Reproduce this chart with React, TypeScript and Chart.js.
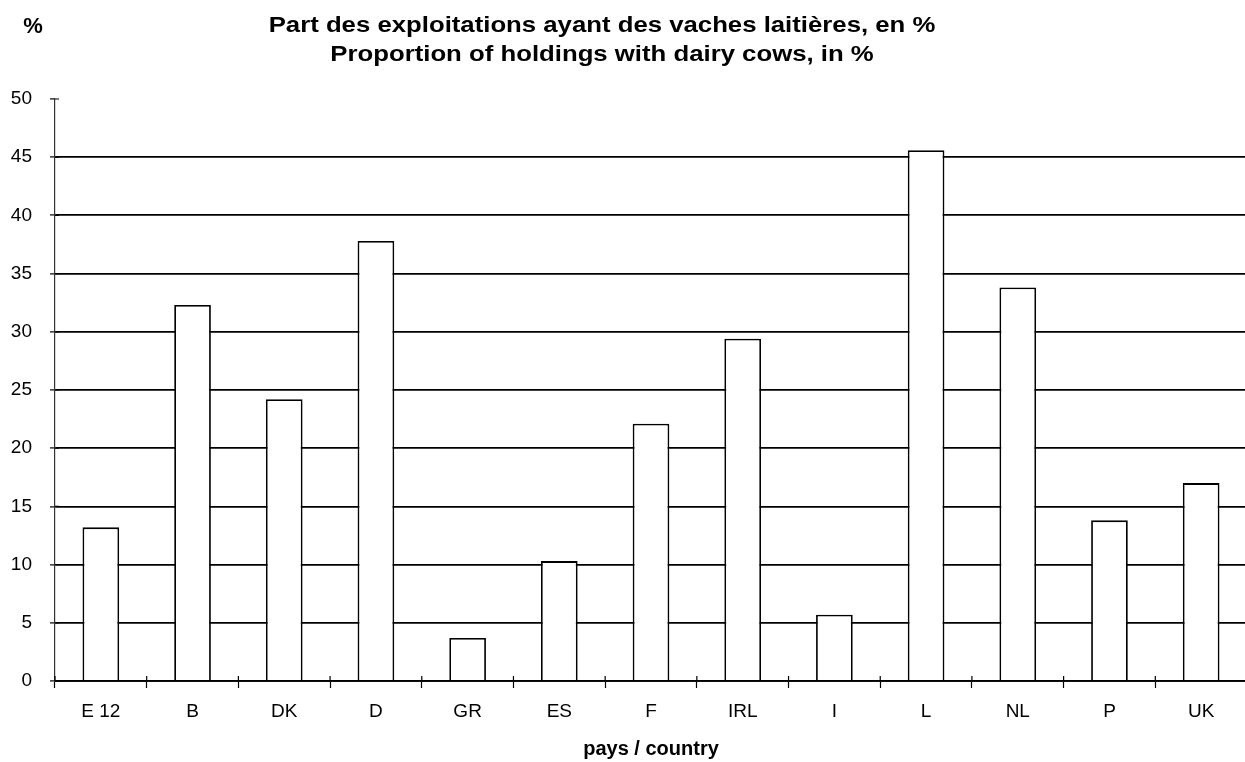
import React, { useEffect, useRef } from "react";
import { Chart, registerables } from "chart.js";

Chart.register(...registerables);

const categories = ["E 12", "B", "DK", "D", "GR", "ES", "F", "IRL", "I", "L", "NL", "P", "UK"];
const shares = [13.2, 32.3, 24.2, 37.8, 3.7, 10.3, 22.1, 29.4, 5.7, 45.6, 33.8, 13.8, 17.0];
const yMin = 0;
const yMax = 50;
const yStep = 5;
const titleLines = [
  "Part des exploitations ayant des vaches laitières, en %",
  "Proportion of holdings with dairy cows, in %",
];
const yUnitLabel = "%";
const xAxisTitle = "pays / country";

const FONT = "'Liberation Sans', Arial, Helvetica, sans-serif";

const titlePlugin = {
  id: "customTitle",
  afterDraw(chart: any) {
    const ctx = chart.ctx as CanvasRenderingContext2D;
    ctx.save();
    ctx.fillStyle = "#000";
    ctx.font = `bold 22px ${FONT}`;
    ctx.textAlign = "center";
    ctx.textBaseline = "alphabetic";
    const baselines = [32, 61];
    titleLines.forEach((line, i) => {
      ctx.save();
      ctx.translate(602, baselines[i]);
      ctx.scale(1.17, 1);
      ctx.fillText(line, 0, 0);
      ctx.restore();
    });
    ctx.fillText(yUnitLabel, 33, 33);
    ctx.restore();
  },
};

// small tick segments crossing the axes inward, as in the source chart
const crossTicksPlugin = {
  id: "crossTicks",
  afterDatasetsDraw(chart: any) {
    const ctx = chart.ctx as CanvasRenderingContext2D;
    const { left, bottom } = chart.chartArea;
    const x = chart.scales.x;
    const y = chart.scales.y;
    ctx.save();
    ctx.strokeStyle = "#000";
    ctx.lineWidth = 1.2;
    ctx.beginPath();
    for (let i = 0; i <= categories.length; i++) {
      const px = x.getPixelForValue(i - 0.5);
      ctx.moveTo(px, bottom - 5);
      ctx.lineTo(px, bottom);
    }
    for (let v = yMin; v <= yMax; v += yStep) {
      const py = y.getPixelForValue(v);
      ctx.moveTo(left, py);
      ctx.lineTo(left + 4, py);
    }
    ctx.stroke();
    ctx.restore();
  },
};

export default function App() {
  const ref = useRef<HTMLCanvasElement | null>(null);

  useEffect(() => {
    if (!ref.current) return;
    const chart = new Chart(ref.current, {
      type: "bar",
      data: {
        labels: categories,
        datasets: [
          {
            data: shares,
            backgroundColor: "#ffffff",
            borderColor: "#000000",
            borderWidth: 1.8,
            barPercentage: 0.4,
            categoryPercentage: 1,
          },
        ],
      },
      options: {
        responsive: false,
        animation: false,
        layout: { padding: { top: 99, left: 0, right: 0, bottom: 0 } },
        plugins: {
          legend: { display: false },
          title: { display: false },
          tooltip: { enabled: false },
        },
        scales: {
          x: {
            offset: true,
            grid: {
              offset: true,
              drawOnChartArea: false,
              drawTicks: true,
              tickLength: 7,
              tickColor: "#000",
              tickWidth: 1.2,
            },
            border: { display: true, color: "#000", width: 1.8 },
            ticks: {
              color: "#000",
              font: { family: FONT, size: 19 },
              padding: 12,
              maxRotation: 0,
              autoSkip: false,
            },
            title: {
              display: true,
              text: xAxisTitle,
              color: "#000",
              font: { family: FONT, size: 20, weight: "bold" },
              padding: { top: 0, bottom: 1 },
            },
            afterFit: (s: any) => {
              s.height = 81;
            },
          },
          y: {
            min: yMin,
            max: yMax,
            ticks: {
              stepSize: yStep,
              color: "#000",
              font: { family: FONT, size: 19 },
              padding: 18,
            },
            grid: {
              color: (c: any) => (c.tick && c.tick.value === yMax ? "rgba(0,0,0,0)" : "#000"),
              lineWidth: 1.8,
              tickLength: 5,
              tickColor: "#000",
              tickWidth: 1.2,
            },
            border: { display: true, color: "#333", width: 1.2 },
            afterFit: (s: any) => {
              s.width = 55;
            },
          },
        },
      },
      plugins: [titlePlugin, crossTicksPlugin],
    });
    return () => chart.destroy();
  }, []);

  return (
    <div
      style={{
        position: "fixed",
        left: 0,
        top: 0,
        width: 1245,
        height: 762,
        overflow: "hidden",
        background: "#fff",
      }}
    >
      <canvas ref={ref} width={1247} height={762} style={{ width: 1247, height: 762, display: "block" }} />
    </div>
  );
}
